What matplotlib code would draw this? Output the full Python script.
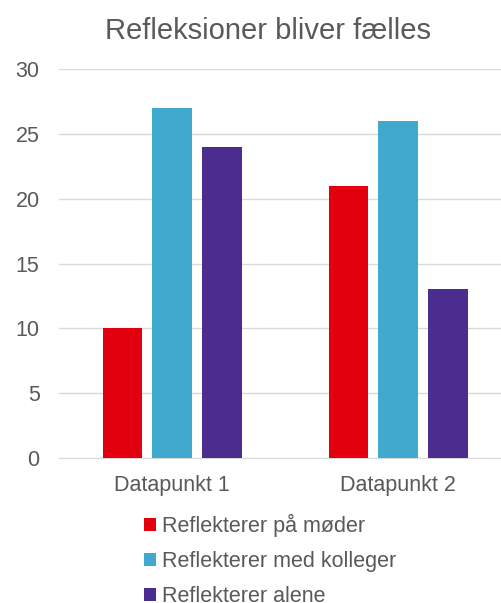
import numpy as np
import matplotlib.pyplot as plt
from matplotlib.patches import Patch

plt.rcParams['font.family'] = ['Liberation Sans', 'DejaVu Sans']

categories = ["Datapunkt 1", "Datapunkt 2"]
series_names = ["Reflekterer på møder", "Reflekterer med kolleger", "Reflekterer alene"]
moeder = [10, 21]
kolleger = [27, 26]
alene = [24, 13]
colors = ["#E2000F", "#40A9CE", "#4A2D8F"]

text_col = "#595959"
grid_col = "#D9D9D9"

fig = plt.figure(figsize=(5.02, 6.03), dpi=100)
ax = fig.add_axes([59 / 502, 145 / 603, 1 - 59 / 502, 389 / 603])

x = np.arange(len(categories))
width = 0.173
step = 0.221
for i, (vals, col) in enumerate(zip([moeder, kolleger, alene], colors)):
    ax.bar(x + (i - 1) * step, vals, width, color=col, zorder=3)

ax.set_xlim(-0.5, 1.46)
ax.set_ylim(0, 30)
ax.set_yticks(range(0, 31, 5))
ax.set_xticks(x)
ax.set_xticklabels(categories)
ax.grid(axis='y', color=grid_col, linewidth=1, zorder=0)
ax.tick_params(axis='both', length=0, labelsize=15.5, colors=text_col)
ax.tick_params(axis='y', pad=14)
ax.tick_params(axis='x', pad=12)
for s in ["top", "right", "left"]:
    ax.spines[s].set_visible(False)
ax.spines["bottom"].set_color(grid_col)

fig.text(268 / 502, 1 - 31 / 603, "Refleksioner bliver fælles", ha='center', va='center',
         fontsize=21, color=text_col)

handles = [Patch(facecolor=c, edgecolor='none') for c in colors]
fig.legend(handles, series_names, loc='upper left', bbox_to_anchor=(133 / 502, 1 - 503 / 603),
           frameon=False, fontsize=15.5, labelcolor=text_col, handlelength=0.56,
           handleheight=0.56, handletextpad=0.28, labelspacing=0.66, borderpad=0)

fig.savefig("out.png", dpi=100)
